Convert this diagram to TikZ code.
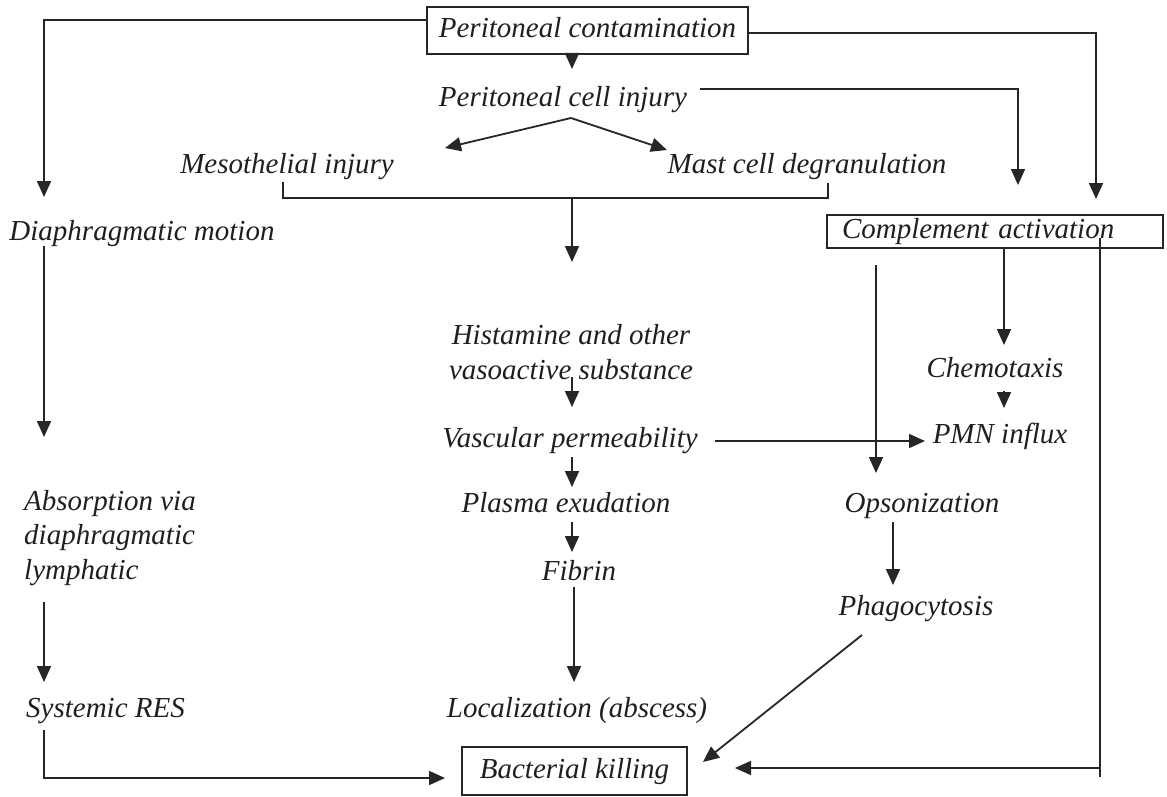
\documentclass[tikz,border=0pt]{standalone}
\usepackage{fontspec}
\setmainfont{Liberation Serif}
\usetikzlibrary{arrows.meta}
\begin{document}
\begin{tikzpicture}[x=1pt,y=-1pt,
  txt/.style={font=\fontsize{29}{34.5}\selectfont\itshape, text=black!88},
  lbl/.style={txt, inner sep=0pt, anchor=base},
  multi/.style={txt, inner sep=0pt},
  boxnode/.style={txt, draw=black!85, line width=1.7pt, inner sep=0pt, text height=20pt, text depth=6pt},
  conn/.style={line width=1.8pt, draw=black!85},
  arr/.style={conn, -{Triangle[length=16pt,width=14pt]}}]
\useasboundingbox (0,0) rectangle (1167,797);

% nodes
\node[boxnode, minimum width=321pt, minimum height=47pt] (pc) at (587.5,30.5) {Peritoneal contamination};
\node[lbl] (pci) at (563,107) {Peritoneal cell injury};
\node[lbl] (mi) at (287,173) {Mesothelial injury};
\node[lbl] (mcd) at (807,173) {Mast cell degranulation};
\node[lbl] (dm) at (142,240) {Diaphragmatic motion};
\node[boxnode, minimum height=33pt, text width=306pt, inner xsep=15pt, align=left] (ca) at (995,231.5) {Complement activation};
\node[multi, align=center] (hist) at (571,352) {Histamine and other\\vasoactive substance};
\node[lbl] (vp) at (570,447) {Vascular permeability};
\node[lbl] (pe) at (566,512) {Plasma exudation};
\node[lbl] (fib) at (579,580) {Fibrin};
\node[lbl] (loc) at (577,717) {Localization (abscess)};
\node[multi, align=left, anchor=west] (abs) at (24,538) {Absorption via\\diaphragmatic\\lymphatic};
\node[lbl, anchor=base west] (sys) at (26,717) {Systemic RES};
\node[lbl] (chem) at (995,377) {Chemotaxis};
\node[lbl] (pmn) at (1000,443) {PMN influx};
\node[lbl] (ops) at (922,512) {Opsonization};
\node[lbl] (phag) at (916,615) {Phagocytosis};
\node[boxnode, minimum width=225pt, minimum height=48pt] (bk) at (574.5,771) {Bacterial killing};

% coordinates
\coordinate (t1) at (44,197);
\coordinate (t2) at (1096,199);
\coordinate (t3) at (572,69);
\coordinate (s4) at (700,89);
\coordinate (t4) at (1018,185);
\coordinate (apex) at (571,118);
\coordinate (t5a) at (445,148);
\coordinate (t5b) at (667,150);
\coordinate (bl) at (283,182);
\coordinate (bm) at (572,198);
\coordinate (br) at (828,183);
\coordinate (t6) at (572,262);
\coordinate (t7) at (44,437);
\coordinate (s8) at (44,602);
\coordinate (t8) at (44,682);
\coordinate (s9) at (44,730);
\coordinate (t9) at (445,778);
\coordinate (s10) at (572,377);
\coordinate (t10) at (572,407);
\coordinate (s11) at (572,457);
\coordinate (t11) at (572,487);
\coordinate (s12) at (572,522);
\coordinate (t12) at (572,552);
\coordinate (s13) at (574,587);
\coordinate (t13) at (574,682);
\coordinate (s14) at (715,441);
\coordinate (t14) at (925,441);
\coordinate (t15) at (1004,345);
\coordinate (s16) at (1004,391);
\coordinate (t16) at (1004,408);
\coordinate (s17) at (876,265);
\coordinate (t17) at (876,473);
\coordinate (s18) at (893,522);
\coordinate (t18) at (893,585);
\coordinate (s19) at (862,635);
\coordinate (t19) at (703,762);
\coordinate (r1) at (1100,238);
\coordinate (r2) at (1100,768);
\coordinate (r3) at (1100,777);
\coordinate (t20) at (735,768);

% connectors
\draw[arr] ([yshift=10.5pt]pc.west) -| (t1);
\draw[arr] ([yshift=-2.5pt]pc.east) -| (t2);
\draw[arr] (pc.south -| t3) -- (t3);
\draw[arr] (s4) -| (t4);
\draw[arr] (apex) -- (t5a);
\draw[arr] (apex) -- (t5b);
\draw[conn] (bl) |- (bm) -| (br);
\draw[arr] (bm) -- (t6);
\draw[arr] (dm.south -| t7) -- (t7);
\draw[arr] (s8) -- (t8);
\draw[arr] (s9) |- (t9);
\draw[arr] (s10) -- (t10);
\draw[arr] (s11) -- (t11);
\draw[arr] (s12) -- (t12);
\draw[arr] (s13) -- (t13);
\draw[arr] (s14) -- (t14);
\draw[arr] (ca.south -| t15) -- (t15);
\draw[arr] (s16) -- (t16);
\draw[arr] (s17) -- (t17);
\draw[arr] (s18) -- (t18);
\draw[arr] (s19) -- (t19);
\draw[conn] (r1) -- (r3);
\draw[arr] (r2) -- (t20);
\end{tikzpicture}
\end{document}
